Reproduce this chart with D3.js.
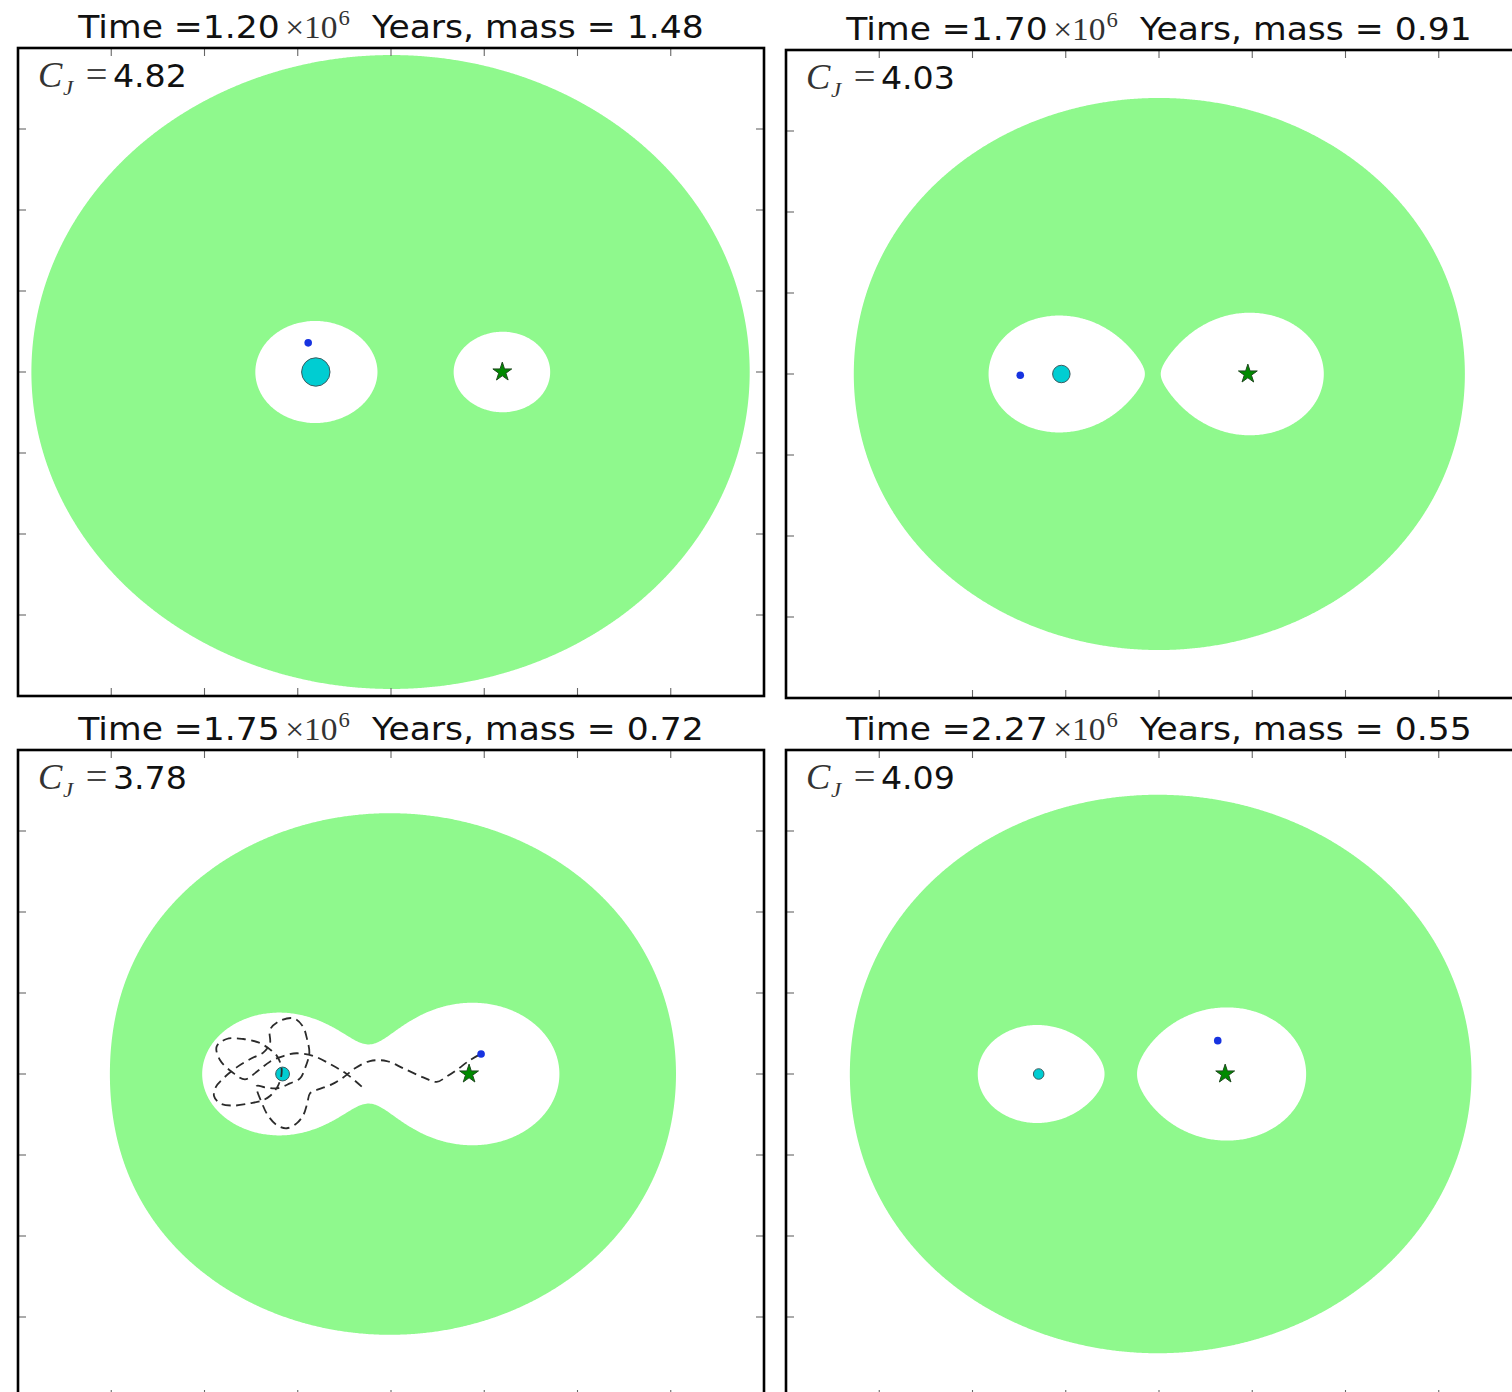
<!DOCTYPE html>
<html>
<head>
<meta charset="utf-8">
<script src="https://cdn.jsdelivr.net/npm/d3@7"></script>
<style>
  body { margin: 0; background: #fff; }
  svg { display: block; }
  text { white-space: pre; }
</style>
</head>
<body>
<svg id="fig" width="1512" height="1392"></svg>
<script>
// Snapshot values, one entry per panel
const times   = [1.20, 1.70, 1.75, 2.27];   // ×10^6 years
const masses  = [1.48, 0.91, 0.72, 0.55];   // planet-to-star mass ratio
const jacobi  = [4.82, 4.03, 3.78, 4.09];   // Jacobi constant C_J

// Test particle position in the rotating frame
const particleX = [-0.444, -0.744, 0.483, 0.315];
const particleY = [0.180, -0.008, 0.123, 0.206];

// Recent path of the particle, shown in the third panel
const trackPanel = 2;
const trackX = [-0.157,-0.238,-0.327,-0.416,-0.506,-0.577,-0.649,-0.720,-0.783,-0.854,-0.917,-0.935,-0.881,-0.792,-0.711,-0.649,-0.609,-0.586,-0.604,-0.649,-0.693,-0.756,-0.845,-0.917,-0.949,-0.938,-0.899,-0.828,-0.747,-0.685,-0.649,-0.649,-0.604,-0.524,-0.474,-0.449,-0.438,-0.461,-0.488,-0.542,-0.609,-0.676,-0.720,-0.688,-0.658,-0.613,-0.559,-0.506,-0.470,-0.449,-0.434,-0.390,-0.318,-0.256,-0.193,-0.113,-0.023,0.066,0.173,0.245,0.298,0.352,0.424,0.477];
const trackY = [-0.078,0,0.062,0.111,0.128,0.111,0.076,0.014,-0.033,0.014,0.086,0.169,0.216,0.216,0.195,0.152,0.107,0.025,-0.068,-0.136,-0.165,-0.181,-0.195,-0.181,-0.136,-0.078,-0.027,0.041,0.097,0.132,0.189,0.272,0.323,0.344,0.296,0.210,0.128,0.035,-0.027,-0.058,-0.088,-0.082,-0.074,-0.191,-0.259,-0.315,-0.335,-0.305,-0.253,-0.181,-0.119,-0.095,-0.064,-0.021,0.035,0.080,0.080,0.035,-0.021,-0.049,-0.016,0.025,0.086,0.121];

// Axis extent and tick positions (both axes)
const extent = [-2, 2];
const tickValues = [-1.5, -1, -0.5, 0, 0.5, 1, 1.5];

// ---- layout ----
const W = 746, H = 648;
const frames = [
  { left: 18,  top: 48 },
  { left: 786, top: 50 },
  { left: 18,  top: 750 },
  { left: 786, top: 750 }
];

const GREEN = "#8ff98d";
const svg = d3.select("#fig");
const defs = svg.append("defs");

// Effective potential (2Ω) of the circular restricted three-body problem
function twoOmega(x, y, ratio) {
  const mPlanet = ratio / (1 + ratio), mStar = 1 / (1 + ratio);
  const rp = Math.hypot(x + mStar, y);
  const rs = Math.hypot(x - mPlanet, y);
  return x * x + y * y + 2 * mPlanet / rp + 2 * mStar / rs;
}

const N = 560; // grid samples per side
const rScale = d3.scaleLinear().domain([0, 1]).range([0, 9.6]);
const line = d3.line().curve(d3.curveCatmullRom.alpha(0.5));

frames.forEach((f, i) => {
  const x = d3.scaleLinear().domain(extent).range([f.left, f.left + W]);
  const y = d3.scaleLinear().domain(extent).range([f.top + H, f.top]);
  const g = svg.append("g");

  defs.append("clipPath").attr("id", "clip" + i)
    .append("rect").attr("x", f.left).attr("y", f.top).attr("width", W).attr("height", H);

  const body = g.append("g").attr("clip-path", `url(#clip${i})`);
  body.append("rect").attr("x", f.left).attr("y", f.top).attr("width", W).attr("height", H).attr("fill", "#fff");

  // Forbidden zone: 2Ω < C_J
  const step = (extent[1] - extent[0]) / N;
  const values = new Float64Array(N * N);
  for (let j = 0; j < N; j++) {
    const yy = extent[1] - (j + 0.5) * step;
    for (let k = 0; k < N; k++) {
      const xx = extent[0] + (k + 0.5) * step;
      values[j * N + k] = -Math.min(twoOmega(xx, yy, masses[i]), 1e3);
    }
  }
  const zone = d3.contours().size([N, N]).thresholds([-jacobi[i]])(values);
  const proj = d3.geoTransform({
    point: function (gx, gy) {
      this.stream.point(x(extent[0] + gx * step), y(extent[1] - gy * step));
    }
  });
  body.append("path")
    .datum(zone[0])
    .attr("d", d3.geoPath(proj))
    .attr("fill", GREEN);

  const m = masses[i];
  const planetX = -1 / (1 + m), starX = m / (1 + m);

  // Planet
  body.append("circle")
    .attr("cx", x(planetX)).attr("cy", y(0)).attr("r", rScale(m))
    .attr("fill", "#00cdd2").attr("stroke", "#3d5c60").attr("stroke-width", 1);

  // Star
  body.append("path")
    .attr("d", d3.symbol(d3.symbolStar, 110)())
    .attr("transform", `translate(${x(starX)},${y(0)})`)
    .attr("fill", "#008a00").attr("stroke", "#1f4a1f").attr("stroke-width", 1);

  // Particle path
  if (i === trackPanel) {
    body.append("path")
      .attr("d", line(trackX.map((v, k) => [x(v), y(trackY[k])])))
      .attr("fill", "none").attr("stroke", "#2b2b2b")
      .attr("stroke-width", 1.8).attr("stroke-dasharray", "9,5.5");
  }

  // Particle
  body.append("circle")
    .attr("cx", x(particleX[i])).attr("cy", y(particleY[i])).attr("r", 3.8)
    .attr("fill", "#1733e0");

  // Inward ticks on all four sides
  const tk = 8;
  const ticks = g.append("g").attr("stroke", "#666").attr("stroke-width", 1.1);
  tickValues.forEach(t => {
    const px = x(t), py = y(t);
    ticks.append("line").attr("x1", px).attr("x2", px).attr("y1", f.top + H).attr("y2", f.top + H - tk);
    ticks.append("line").attr("x1", px).attr("x2", px).attr("y1", f.top).attr("y2", f.top + tk);
    ticks.append("line").attr("x1", f.left).attr("x2", f.left + tk).attr("y1", py).attr("y2", py);
    ticks.append("line").attr("x1", f.left + W).attr("x2", f.left + W - tk).attr("y1", py).attr("y2", py);
  });

  // Frame
  g.append("rect").attr("x", f.left).attr("y", f.top).attr("width", W).attr("height", H)
    .attr("fill", "none").attr("stroke", "#000").attr("stroke-width", 2.6);

  // Title
  const title = g.append("text")
    .attr("transform", `translate(${f.left + W / 2},${f.top - 10}) scale(1.08,1)`)
    .attr("text-anchor", "middle")
    .attr("fill", "#111");
  title.append("tspan").attr("font-family", "DejaVu Sans").attr("font-size", 32)
    .text("Time =" + times[i].toFixed(2));
  title.append("tspan").attr("font-family", "Liberation Serif").attr("font-size", 31)
    .attr("dx", 5).attr("fill", "#333").text("×10");
  title.append("tspan").attr("font-family", "Liberation Serif").attr("font-size", 21)
    .attr("dy", -13).attr("dx", 1).attr("fill", "#333").text("6");
  title.append("tspan").attr("font-family", "DejaVu Sans").attr("font-size", 32)
    .attr("dy", 13).text("  Years, mass = " + masses[i].toFixed(2));

  // Jacobi constant label
  const lab = g.append("g")
    .attr("transform", `translate(${f.left + 20},${f.top + 39}) scale(1.04,1)`);
  lab.append("text").attr("font-family", "Liberation Serif").attr("font-style", "italic")
    .attr("font-size", 35).attr("fill", "#333").text("C");
  lab.append("text").attr("x", 24).attr("y", 8).attr("font-family", "Liberation Serif")
    .attr("font-style", "italic").attr("font-size", 22).attr("fill", "#333").text("J");
  lab.append("text").attr("x", 46).attr("font-family", "Liberation Serif")
    .attr("font-size", 37).attr("fill", "#444").text("=");
  lab.append("text").attr("x", 72).attr("font-family", "DejaVu Sans")
    .attr("font-size", 32).attr("fill", "#111").text(jacobi[i].toFixed(2));
});
</script>
</body>
</html>
